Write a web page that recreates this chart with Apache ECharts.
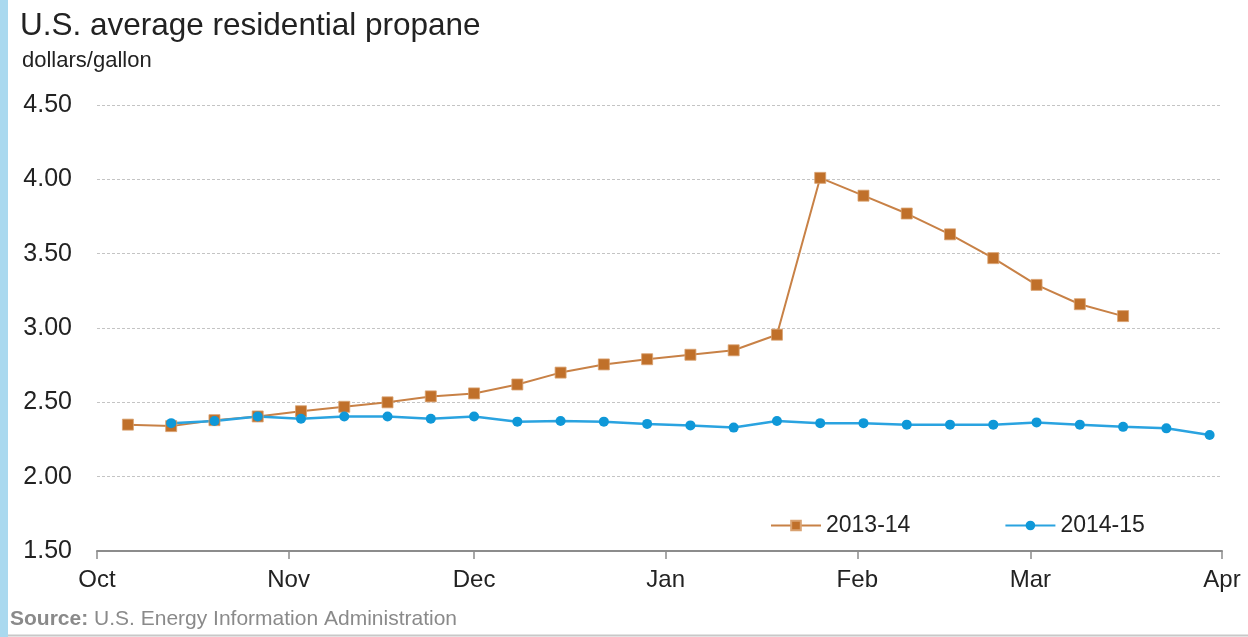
<!DOCTYPE html>
<html>
<head>
<meta charset="utf-8">
<script src="https://cdn.jsdelivr.net/npm/echarts@6/dist/echarts.min.js"></script>
<style>html,body{margin:0;padding:0;background:#fff;}#c{width:1248px;height:637px;}</style>
</head>
<body>
<div id="c"></div>
<script>
// Weekly (Monday) dates, both seasons drawn on the Oct-Apr calendar
const weeks = [
  '2014-10-06','2014-10-13','2014-10-20','2014-10-27',
  '2014-11-03','2014-11-10','2014-11-17','2014-11-24',
  '2014-12-01','2014-12-08','2014-12-15','2014-12-22','2014-12-29',
  '2015-01-05','2015-01-12','2015-01-19','2015-01-26',
  '2015-02-02','2015-02-09','2015-02-16','2015-02-23',
  '2015-03-02','2015-03-09','2015-03-16','2015-03-23','2015-03-30'
];
const season1314 = [2.35, 2.34, 2.38, 2.405, 2.44, 2.47, 2.50, 2.54, 2.56, 2.62, 2.70, 2.755, 2.79,
  2.82, 2.85, 2.955, 4.01, 3.89, 3.77, 3.63, 3.47, 3.29, 3.16, 3.08, null, null];
const season1415 = [null, 2.36, 2.375, 2.405, 2.39, 2.405, 2.405, 2.39, 2.405, 2.37, 2.375, 2.37, 2.355,
  2.345, 2.33, 2.375, 2.36, 2.36, 2.35, 2.35, 2.35, 2.365, 2.35, 2.335, 2.325, 2.28];
const seriesNames = ['2013-14', '2014-15'];
const yTicks = [1.5, 2.0, 2.5, 3.0, 3.5, 4.0, 4.5];
const axisStart = '2014-10-01', axisEnd = '2015-04-01';

const pair = (vals) => weeks.map((d, i) => [d, vals[i]]);
const FONT = 'Liberation Sans, Arial, sans-serif';

const chart = echarts.init(document.getElementById('c'));
chart.setOption({
  animation: false,
  backgroundColor: '#fff',
  textStyle: { fontFamily: FONT },
  title: [
    { text: 'U.S. average residential propane', left: 15, top: 5,
      textStyle: { fontFamily: FONT, fontSize: 31.5, fontWeight: 'normal', color: '#222' } },
    { text: 'dollars/gallon', left: 17, top: 45,
      textStyle: { fontFamily: FONT, fontSize: 22, fontWeight: 'normal', color: '#222' } },
    { text: '{b|Source:} U.S. Energy Information Administration', left: 5, top: 604,
      textStyle: { fontFamily: FONT, fontSize: 21, fontWeight: 'normal', color: '#8a8a8a',
        rich: { b: { fontFamily: FONT, fontSize: 21, fontWeight: 'bold', color: '#8a8a8a' } } } }
  ],
  graphic: [
    { type: 'rect', shape: { x: 0, y: 0, width: 8, height: 637 }, style: { fill: '#aad9ef' }, silent: true },
    { type: 'line', shape: { x1: 8, y1: 635.5, x2: 1248, y2: 635.5 }, style: { stroke: '#c8c8c8', lineWidth: 2 }, silent: true }
  ],
  legend: {
    left: 765, top: 509,
    itemWidth: 50, itemHeight: 12, itemGap: 94,
    textStyle: { fontFamily: FONT, fontSize: 23, color: '#222' },
    data: seriesNames
  },
  grid: { left: 97, right: 26, top: 105, bottom: 86, containLabel: false },
  xAxis: {
    type: 'time', min: axisStart, max: axisEnd, splitNumber: 6,
    axisLine: { lineStyle: { color: '#8c8c8c', width: 2 } },
    axisTick: { show: true, length: 8, lineStyle: { color: '#8c8c8c', width: 1.5 } },
    axisLabel: { formatter: '{MMM}', fontFamily: FONT, fontSize: 24, color: '#222', margin: 17,
      showMinLabel: true, showMaxLabel: true },
    splitLine: { show: false }
  },
  yAxis: {
    type: 'value', min: yTicks[0], max: yTicks[yTicks.length - 1], interval: 0.5,
    axisLine: { show: false }, axisTick: { show: false },
    axisLabel: { formatter: v => v.toFixed(2), fontFamily: FONT, fontSize: 25, color: '#222', margin: 25 },
    splitLine: { show: true, lineStyle: { color: '#c4c4c4', type: [3, 2], width: 1.2 } }
  },
  series: [
    { name: seriesNames[0], type: 'line', data: pair(season1314),
      symbol: 'rect', symbolSize: 11, showAllSymbol: true,
      itemStyle: { color: '#c0702a', borderColor: '#d9a271', borderWidth: 0.8 },
      lineStyle: { color: '#c88146', width: 2 } },
    { name: seriesNames[1], type: 'line', data: pair(season1415),
      symbol: 'circle', symbolSize: 10, showAllSymbol: true,
      itemStyle: { color: '#0f98d8' },
      lineStyle: { color: '#2aa3e0', width: 2.5 } }
  ]
});
</script>
</body>
</html>
